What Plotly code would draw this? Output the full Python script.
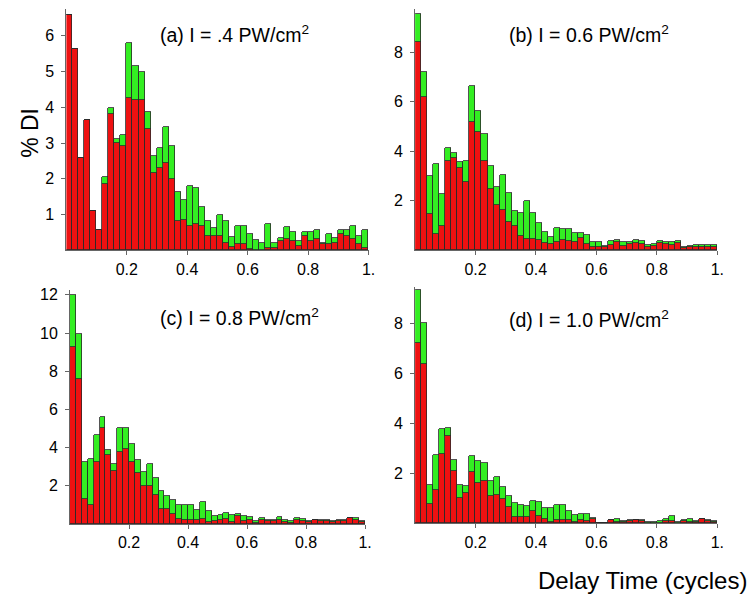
import plotly.graph_objects as go

# bin centres (delay time in cycles), 50 bins of width 0.02
delay = [round(0.01 + 0.02 * i, 2) for i in range(50)]
bin_width = 0.02

a_red = [6.57, 5.63, 2.58, 3.64, 1.11, 0.58, 1.87, 3.80, 2.99, 2.92,
         4.27, 4.21, 4.21, 3.40, 2.16, 2.29, 2.45, 1.99, 0.81, 0.85,
         0.69, 0.75, 0.69, 0.41, 0.41, 0.41, 0.22, 0.10, 0.17, 0.17,
         0.04, 0.00, 0.00, 0.06, 0.08, 0.27, 0.33, 0.27, 0.11, 0.39,
         0.27, 0.33, 0.17, 0.17, 0.22, 0.45, 0.41, 0.33, 0.17, 0.06]
a_green = [0, 0, 0, 0, 0, 0, 0.19, 0.19, 0.13, 0.30,
           1.54, 0.96, 0.77, 0.48, 0.48, 0.58, 1.01, 0.93, 0.83, 0.56,
           1.12, 1.00, 0.53, 0.40, 0.21, 0.58, 0.59, 0.28, 0.52, 0.52,
           0.41, 0.28, 0.22, 0.69, 0.14, 0.07, 0.31, 0.25, 0.16, 0.13,
           0.25, 0.24, 0.05, 0.28, 0.12, 0.12, 0.16, 0.36, 0.24, 0.51]

b_red = [8.41, 6.19, 1.47, 0.66, 0.98, 3.62, 3.72, 3.34, 2.76, 5.19,
         4.79, 3.59, 2.48, 1.83, 1.62, 1.16, 1.00, 0.58, 0.45, 0.45,
         0.40, 0.30, 0.25, 0.32, 0.43, 0.39, 0.32, 0.48, 0.25, 0.12,
         0.12, 0.12, 0.21, 0.35, 0.19, 0.25, 0.29, 0.25, 0.12, 0.19,
         0.29, 0.25, 0.23, 0.29, 0.10, 0.12, 0.12, 0.15, 0.12, 0.12]
b_green = [1.14, 1.02, 1.52, 2.81, 1.30, 0.51, 0.20, 0.21, 0.83, 1.44,
           0.84, 1.11, 0.91, 0.73, 1.41, 1.16, 0.58, 0.94, 1.56, 1.05,
           0.72, 0.45, 0.29, 0.58, 0.43, 0.47, 0.40, 0.21, 0.36, 0.20,
           0.20, 0.07, 0.15, 0.08, 0.13, 0.07, 0.14, 0.11, 0.11, 0.06,
           0.07, 0.07, 0.09, 0.07, 0.02, 0.07, 0.09, 0.08, 0.11, 0.09]

c_red = [9.25, 7.60, 1.31, 1.00, 3.25, 5.03, 3.60, 2.78, 3.79, 3.91,
         3.25, 2.66, 2.00, 1.97, 1.52, 0.77, 0.77, 0.53, 0.27, 0.22,
         0.22, 0.20, 0.25, 0.12, 0.13, 0.18, 0.27, 0.10, 0.39, 0.15,
         0.18, 0.06, 0.18, 0.13, 0.15, 0.23, 0.10, 0.06, 0.18, 0.15,
         0.10, 0.18, 0.15, 0.15, 0.10, 0.15, 0.15, 0.30, 0.18, 0.10]
c_green = [2.72, 2.36, 1.94, 2.39, 1.40, 0.59, 0.26, 0.38, 1.24, 1.12,
           0.95, 0.70, 0.71, 1.16, 0.91, 0.97, 0.71, 0.73, 0.71, 0.78,
           0.78, 0.52, 0.88, 0.54, 0.31, 0.30, 0.31, 0.39, 0.14, 0.29,
           0.18, 0.09, 0.12, 0.10, 0.07, 0.13, 0.13, 0.09, 0.12, 0.12,
           0.05, 0.05, 0.03, 0.07, 0.05, 0.03, 0.07, 0.02, 0.14, 0.05]

d_red = [7.21, 6.38, 0.78, 1.34, 2.79, 3.50, 2.08, 1.02, 1.21, 2.04,
         1.62, 1.68, 1.11, 1.15, 0.98, 0.65, 0.25, 0.25, 0.24, 0.49,
         0.28, 0.19, 0.07, 0.15, 0.12, 0.15, 0.05, 0.12, 0.08, 0.19,
         0.02, 0.02, 0.12, 0.05, 0.05, 0.09, 0.12, 0.09, 0.03, 0.03,
         0.03, 0.09, 0.09, 0.03, 0.09, 0.05, 0.05, 0.16, 0.08, 0.05]
d_green = [2.15, 1.62, 0.76, 1.39, 0.97, 0.30, 0.46, 0.52, 0.27, 0.64,
           0.86, 0.73, 0.57, 0.69, 0.46, 0.44, 0.57, 0.47, 0.44, 0.39,
           0.58, 0.43, 0.53, 0.59, 0.60, 0.34, 0.27, 0.26, 0.30, 0.04,
           0.01, 0.01, 0.03, 0.14, 0.04, 0.06, 0.03, 0.03, 0.02, 0.02,
           0.06, 0.07, 0.20, 0.02, 0.03, 0.11, 0.04, 0.03, 0.04, 0.04]

titles = ["(a) I = .4 PW/cm<sup>2</sup>", "(b) I = 0.6 PW/cm<sup>2</sup>",
          "(c) I = 0.8 PW/cm<sup>2</sup>", "(d) I = 1.0 PW/cm<sup>2</sup>"]
x_tickvals = [0.2, 0.4, 0.6, 0.8, 1.0]
x_ticktext = ["0.2", "0.4", "0.6", "0.8", "1."]
y_ticks = [[1, 2, 3, 4, 5, 6], [2, 4, 6, 8], [2, 4, 6, 8, 10, 12], [2, 4, 6, 8]]
y_ranges = [6.75, 9.74, 12.25, 9.46]

W, H = 756, 596
RED = "#ee1111"
GREEN = "#33ee22"
EDGE = "#2a2a2a"
FONT = "Liberation Sans, Arial, Helvetica, sans-serif"

# panel boxes in pixels: (left, right, top, bottom)
boxes = [(67, 372, 5, 248), (419, 724, 5, 248),
         (70.7, 368.5, 288, 523.5), (419, 724, 285, 523)]

fig = go.Figure()
panels = [(a_red, a_green), (b_red, b_green), (c_red, c_green), (d_red, d_green)]
for i, (red, green) in enumerate(panels):
    sfx = "" if i == 0 else str(i + 1)
    fig.add_trace(go.Bar(x=delay, y=red, width=bin_width, marker_color=RED,
                         marker_line=dict(color=EDGE, width=0.8),
                         xaxis="x" + sfx, yaxis="y" + sfx, showlegend=False))
    fig.add_trace(go.Bar(x=delay, y=green, width=bin_width, marker_color=GREEN,
                         marker_line=dict(color=EDGE, width=0.8),
                         xaxis="x" + sfx, yaxis="y" + sfx, showlegend=False))

layout = dict(width=W, height=H, margin=dict(l=0, r=0, t=0, b=0),
              paper_bgcolor="white", plot_bgcolor="white",
              barmode="stack", bargap=0,
              font=dict(family=FONT, size=16, color="black"))

for i, (l, r, t, b) in enumerate(boxes):
    sfx = "" if i == 0 else str(i + 1)
    layout["xaxis" + sfx] = dict(
        domain=[l / W, r / W], anchor="y" + sfx, range=[0, 1.0],
        tickvals=x_tickvals, ticktext=x_ticktext, ticks="outside", ticklen=4,
        tickcolor="#666", showline=True, linecolor="#666", linewidth=1,
        showgrid=False, zeroline=False, tickfont=dict(size=16))
    layout["yaxis" + sfx] = dict(
        domain=[(H - b) / H, (H - t) / H], anchor="x" + sfx,
        range=[0, y_ranges[i]], tickvals=y_ticks[i], ticks="outside", ticklen=4,
        tickcolor="#666", showline=True, linecolor="#666", linewidth=1,
        showgrid=False, zeroline=False, tickfont=dict(size=16),
        ticklabelstandoff=4)

fig.update_layout(**layout)

title_pos = [(237, 30), (595, 30), (242, 315), (595, 317)]
ann = []
for txt, (px, py) in zip(titles, title_pos):
    ann.append(dict(text=txt, x=px / W, y=1 - py / H, xref="paper", yref="paper",
                    showarrow=False, xanchor="center", yanchor="middle",
                    font=dict(size=19.5, family=FONT)))
ann.append(dict(text="% DI", x=30 / W, y=1 - 130 / H, xref="paper", yref="paper",
                showarrow=False, textangle=-90, xanchor="center", yanchor="middle",
                font=dict(size=23, family=FONT)))
ann.append(dict(text="Delay Time (cycles)", x=1.0, y=1 - 580 / H, xref="paper",
                yref="paper", showarrow=False, xanchor="right", yanchor="middle",
                font=dict(size=24, family=FONT)))
fig.update_layout(annotations=ann)

fig.write_html("out.html", config={"displayModeBar": False},
               post_script="document.body.style.margin='0';document.body.style.padding='0';")
